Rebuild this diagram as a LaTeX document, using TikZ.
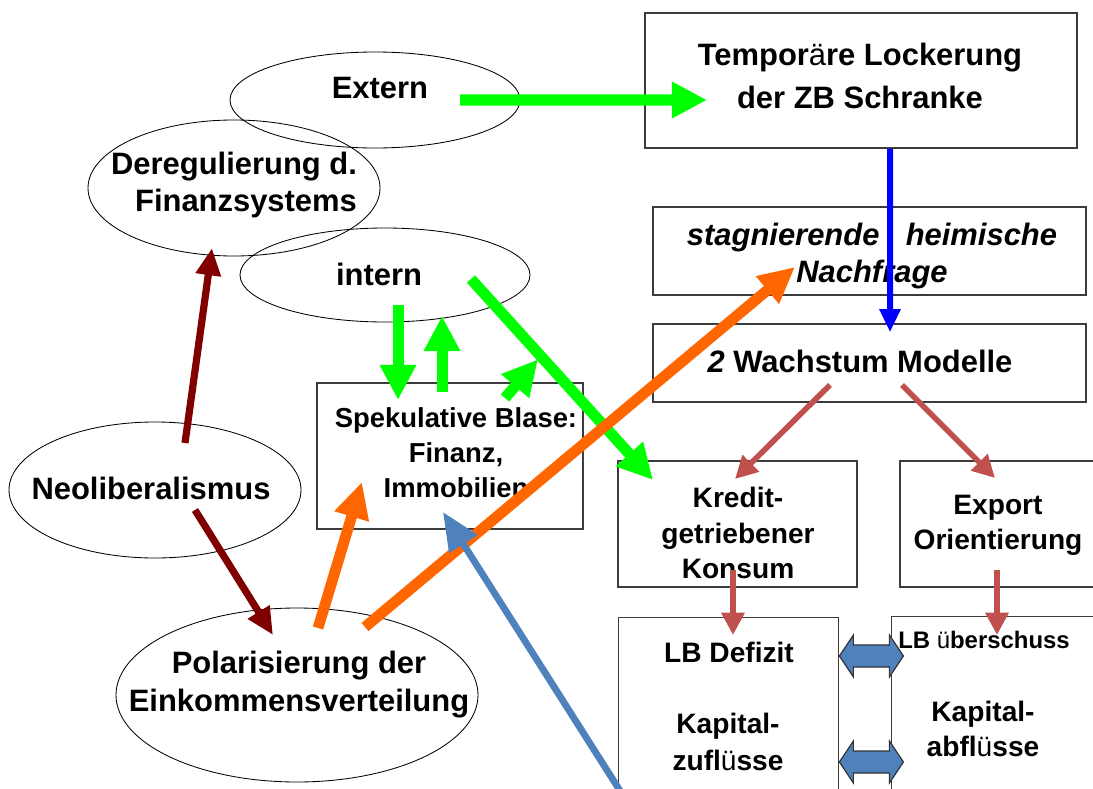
\documentclass[tikz,border=0pt]{standalone}
\usepackage{fontspec}
\setmainfont{Liberation Sans}
\usetikzlibrary{
  shapes.geometric,
  arrows.meta,
  calc
}
\definecolor{externgreen}{RGB}{0, 255, 0}
\definecolor{zbblue}{RGB}{0, 0, 255}
\definecolor{neolibred}{RGB}{128, 0, 0}
\definecolor{polarorange}{RGB}{255, 102, 0}
\definecolor{steelcolor}{RGB}{79, 129, 189}
\definecolor{modelred}{RGB}{192, 80, 77}
\definecolor{boxcolor}{RGB}{60, 60, 60}
\newcommand{\pxu}{0.025cm}
\newcommand{\lightuml}[1]{{\mdseries #1}}
\tikzset{
ellipsetext/.style={
  align=center,
  inner sep=0pt,
  font=\bfseries\fontsize{22}{27}\selectfont
},
boxtext/.style={
  align=center,
  inner sep=0pt,
  font=\bfseries\fontsize{20}{25}\selectfont
},
ellblock/.style={
  draw=black,
  line width=0.6pt,
  ellipse,
  inner sep=0pt
},
boxblock/.style={
  draw=boxcolor,
  line width=1pt,
  rectangle,
  inner sep=0pt
},
greenarrow/.style={
  -{Triangle[length=0.88cm,width=0.86cm]},
  line width=0.275cm,
  draw=externgreen
},
orangearrow/.style={
  -{Triangle[length=0.9cm,width=0.84cm]},
  line width=0.27cm,
  draw=polarorange
},
neolibarrow/.style={
  -{Triangle[length=0.68cm,width=0.6cm]},
  line width=0.18cm,
  draw=neolibred
},
zbarrow/.style={
  -{Triangle[length=0.58cm,width=0.5cm]},
  line width=0.15cm,
  draw=zbblue
},
modelarrow/.style={
  -{Triangle[length=0.56cm,width=0.56cm]},
  line width=0.14cm,
  draw=modelred
},
steelarrow/.style={
  -{Triangle[length=0.95cm,width=0.8cm]},
  line width=0.17cm,
  draw=steelcolor
},
dblarrow/.style={
  fill=steelcolor,
  draw=black!80,
  line width=0.8pt
}
}
\begin{document}
\begin{tikzpicture}[x=\pxu, y=-\pxu]
\useasboundingbox (0,0) rectangle (1093,789);
\clip (0,0) rectangle (1093,789);

% ellipses
\node[ellblock, minimum width=290*\pxu, minimum height=96*\pxu] (extern) at (375,100) {};
\node[ellblock, minimum width=292*\pxu, minimum height=136*\pxu] (dereg) at (234,188) {};
\node[ellblock, minimum width=290*\pxu, minimum height=94*\pxu] (intern) at (385,275) {};
\node[ellblock, minimum width=292*\pxu, minimum height=136*\pxu] (neolib) at (155,490) {};
\node[ellblock, minimum width=362*\pxu, minimum height=174*\pxu] (polar) at (297,695) {};

% boxes
\node[boxblock, minimum width=432*\pxu, minimum height=135*\pxu] (lockerung) at (861,80.5) {};
\node[boxblock, minimum width=433*\pxu, minimum height=88*\pxu] (nachfrage) at (869.5,251) {};
\node[boxblock, minimum width=433*\pxu, minimum height=78*\pxu] (wachstum) at (869.5,363) {};
\node[boxblock, minimum width=266*\pxu, minimum height=146*\pxu] (blase) at (450,456) {};
\node[boxblock, minimum width=239*\pxu, minimum height=126*\pxu] (kredit) at (737.5,524) {};
\node[boxblock, minimum width=210*\pxu, minimum height=126*\pxu] (export) at (1005,524) {};
\node[boxblock, anchor=north west, minimum width=220*\pxu, minimum height=250*\pxu] (lbdef) at (618,617) {};
\node[boxblock, anchor=north west, minimum width=250*\pxu, minimum height=250*\pxu] (lbueb) at (891,616) {};

% texts
\node[ellipsetext] (externtxt) at (380,88) {Extern};
\node[ellipsetext, align=right] (deregtxt) at (234,185) {Deregulierung d.\\Finanzsystems};
\node[ellipsetext] (interntxt) at (379,274) {intern};
\node[ellipsetext] (neolibtxt) at (151,488) {Neoliberalismus};
\node[ellipsetext] (polartxt) at (299,685) {Polarisierung der\\Einkommensverteilung};
\node[ellipsetext, font=\bfseries\fontsize{22}{31}\selectfont] (lockerungtxt) at (860,76)
  {Tempor\lightuml{ä}re Lockerung\\der ZB Schranke};
\node[ellipsetext, font=\bfseries\itshape\fontsize{22}{27}\selectfont] (nachfragetxt) at (872,256)
  {stagnierende\hspace{0.85em}heimische\\Nachfrage};
\node[ellipsetext] (wachstumtxt) at (860,361) {\textit{2} Wachstum Modelle};
\node[boxtext, font=\bfseries\fontsize{19.5}{25}\selectfont] (blasetxt) at (456,453) {Spekulative Blase:\\Finanz,\\Immobilien};
\node[boxtext, font=\bfseries\fontsize{20}{25.5}\selectfont] (kredittxt) at (738,533) {Kredit-\\getriebener\\Konsum};
\node[boxtext] (exporttxt) at (998,525) {Export\\Orientierung};
\node[boxtext] (lbdeftxt) at (729,652) {LB Defizit};
\node[boxtext, font=\bfseries\fontsize{20}{26}\selectfont] (zuflusstxt) at (728,742) {Kapital-\\zufl\lightuml{ü}sse};
\node[boxtext, font=\bfseries\fontsize{17}{20}\selectfont] (lbuebtxt) at (984,640) {LB \lightuml{ü}berschuss};
\node[boxtext] (abflusstxt) at (983,729) {Kapital-\\abfl\lightuml{ü}sse};

% green arrows
\draw[greenarrow] ($(extern.center)+(85,0)$) -- ($(lockerung.center)+(-154,19.5)$);
\coordinate (gstart) at ($(intern.center)+(86,4)$);
\coordinate (gend) at ($(kredit.center)+(-84.5,-44)$);
\coordinate (gmid) at ($(gstart)!0.39!(gend)$);
\draw[greenarrow] (gstart) -- (gend);
\draw[greenarrow] ($(intern.center)+(13,30)$) -- ($(blase.center)+(-52,-56)$);
\draw[greenarrow] ($(blase.center)+(-8,-64)$) -- ($(intern.center)+(57,41)$);
\draw[greenarrow] ($(blase.center)+(55,-58)$) -- ($(gmid)+(-4,2)$);

% blue arrow
\draw[zbarrow] ($(lockerung.south)+(29,0)$) -- ($(wachstum.north)+(20.5,9)$);

% neoliberalism
\draw[neolibarrow] ($(neolib.center)+(30,-47)$) -- ($(dereg.center)+(-22,60)$);
\draw[neolibarrow] ($(neolib.center)+(40,20)$) -- ($(polar.center)+(-24,-60)$);

% polarisation
\draw[orangearrow] ($(polar.center)+(21,-67)$) -- ($(blase.center)+(-88,26)$);
\draw[orangearrow] ($(polar.center)+(68,-68)$) -- ($(nachfrage.center)+(-74.5,16)$);

% capital inflows
\draw[steelarrow] ($(lbdef.west)+(2,48)$) -- ($(blase.center)+(-7,56)$);

% growth models
\draw[modelarrow] ($(wachstum.center)+(-39.5,22)$) -- ($(kredit.center)+(-2.5,-45)$);
\draw[modelarrow] ($(wachstum.center)+(32.5,22)$) -- ($(export.center)+(-10,-46)$);
\draw[modelarrow] ($(kredit.center)+(-4.5,46)$) -- ($(lbdef.north west)+(115,18)$);
\draw[modelarrow] ($(export.center)+(-8,46)$) -- ($(lbueb.north west)+(106,19)$);

% double arrows
\foreach \yy in {39,145}{
  \draw[dblarrow] ($(lbdef.north east)+(0,\yy)$) -- ++(14,-21) -- ++(0,10) -- ++(36,0)
    -- ++(0,-10) -- ++(14,21) -- ++(-14,21) -- ++(0,-10) -- ++(-36,0) -- ++(0,10) -- cycle;
}
\end{tikzpicture}
\end{document}
